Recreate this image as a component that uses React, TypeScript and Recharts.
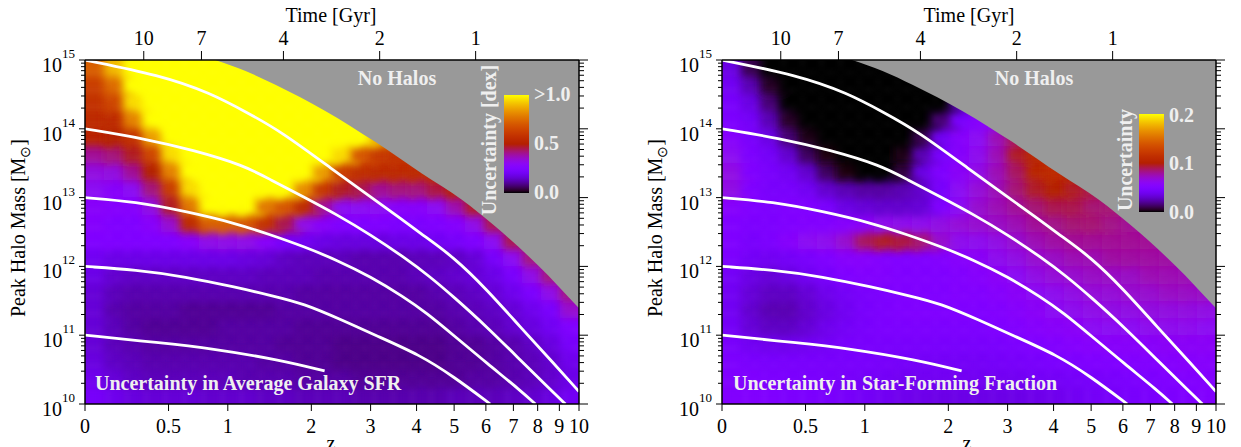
import React from 'react';
import { ComposedChart, XAxis, YAxis, Bar, Line, Area } from 'recharts';

// bottom axis: redshift, top axis: age of the universe
const zTicks = [0, 0.5, 1, 2, 3, 4, 5, 6, 7, 8, 9, 10];
const ageTicks = [10, 7, 4, 2, 1];
const ageTickZ = [0.33, 0.76, 1.62, 3.18, 5.66];
const massDecades = [10, 11, 12, 13, 14, 15];

// median mass accretion histories (z, log10 Mpeak)
const mahZ15 = [0, 0.44, 0.84, 1.19, 1.58, 2.34, 3.0, 3.69, 4.09, 4.98, 6.04, 7.27, 8.73, 10];
const mahM15 = [15, 14.78, 14.52, 14.24, 13.97, 13.4, 13.01, 12.67, 12.48, 12.14, 11.66, 11.12, 10.59, 10.18];
const mahZ14 = [0, 0.33, 0.69, 1.16, 1.46, 1.89, 2.4, 3.0, 3.69, 4.34, 4.98, 6.04, 7.27, 8.73, 9.3];
const mahM14 = [14, 13.86, 13.69, 13.47, 13.26, 13.01, 12.75, 12.46, 12.14, 11.85, 11.56, 11.12, 10.64, 10.16, 10.0];
const mahZ13 = [0, 0.28, 0.63, 1.07, 1.46, 1.89, 2.4, 3.0, 3.69, 4.26, 4.98, 6.04, 7.27, 7.9];
const mahM13 = [13, 12.94, 12.8, 12.63, 12.46, 12.29, 12.09, 11.85, 11.56, 11.32, 11.0, 10.59, 10.2, 10.0];
const mahZ12 = [0, 0.28, 0.63, 1.07, 1.46, 1.89, 2.48, 3.09, 4.09, 4.98, 6.15];
const mahM12 = [12, 11.95, 11.85, 11.7, 11.58, 11.46, 11.22, 11.0, 10.71, 10.4, 10.0];
const mahZ11 = [0, 0.44, 0.84, 1.58, 2.2];
const mahM11 = [11, 10.89, 10.81, 10.64, 10.48];

// upper mass limit of existing halos ("No Halos" above)
const edgeZ = [0.88, 1.18, 1.52, 2.21, 3.09, 4.13, 5.23, 6.33, 8.0, 10];
const edgeM = [15, 14.84, 14.64, 14.26, 13.81, 13.35, 12.97, 12.58, 12.02, 11.39];

// uncertainty grids: 20 rows (log M from 15 down to 10, 0.25 dex each),
// 26 columns evenly spaced in log(1+z) from z=0 to z=10. "-" = no halos
// SFR uncertainty in hundredths of a dex (100 = >1.0)
const sfrRows = [
  '72 90 100 100 100 100 100 100 100 100 - - - - - - - - - - - - - - - -',
  '62 75 100 100 100 100 100 100 100 100 100 - - - - - - - - - - - - - - -',
  '58 65 95 100 100 100 100 100 100 100 100 100 100 - - - - - - - - - - - - -',
  '55 55 80 100 100 100 100 100 100 100 100 100 100 100 100 - - - - - - - - - - -',
  '52 50 58 85 100 100 100 100 100 100 100 100 100 100 100 88 - - - - - - - - - -',
  '40 42 48 65 95 100 100 100 100 100 100 100 100 95 70 60 58 - - - - - - - - -',
  '33 33 40 50 80 100 100 100 100 100 100 100 85 62 56 55 55 55 55 - - - - - - -',
  '30 28 30 42 62 95 100 100 100 100 100 82 60 48 45 40 42 42 46 52 - - - - - -',
  '28 27 27 33 48 78 100 100 100 78 70 55 40 30 30 30 28 28 30 38 48 - - - - -',
  '27 25 25 28 35 55 72 72 70 58 45 32 28 25 25 25 24 24 25 27 32 45 - - - -',
  '25 25 25 25 25 28 32 32 32 28 22 20 18 17 17 17 18 18 20 22 25 30 45 - - -',
  '20 18 18 18 18 18 18 18 17 16 14 13 13 13 12 12 12 13 13 14 16 22 30 42 - -',
  '18 15 14 14 14 14 14 14 14 13 13 13 12 12 12 12 12 13 14 15 16 18 23 32 42 -',
  '16 13 12 12 12 12 12 12 12 12 12 11 11 11 11 11 11 11 12 13 14 16 19 24 32 42',
  '16 12 11 11 11 10 10 10 10 10 11 11 11 11 11 11 11 11 11 12 13 14 16 19 23 35',
  '16 13 11 10 10 10 10 11 11 11 11 10 10 10 10 10 10 10 10 11 12 13 15 17 20 25',
  '16 13 12 11 11 11 11 11 11 11 10 10 10 9 9 9 9 9 9 10 10 11 12 14 17 22',
  '17 14 13 12 12 12 12 12 12 11 11 10 10 9 9 9 9 9 9 10 10 11 12 13 15 19',
  '19 16 14 13 13 13 13 13 12 12 12 11 11 11 10 10 10 10 10 10 11 11 12 13 15 18',
  '22 19 17 16 16 16 15 15 15 14 14 13 13 13 12 12 12 12 12 13 13 13 14 15 17 20',
];
// star-forming fraction uncertainty in thousandths (200 = 0.2)
const sffRows = [
  '35 10 0 0 0 0 0 0 0 0 - - - - - - - - - - - - - - - -',
  '40 25 5 0 0 0 0 0 0 0 0 - - - - - - - - - - - - - - -',
  '45 35 15 0 0 0 0 0 0 0 0 0 25 - - - - - - - - - - - - -',
  '48 42 25 5 0 0 0 0 0 0 0 15 45 55 60 - - - - - - - - - - -',
  '55 45 35 15 3 0 0 0 0 0 10 40 55 60 75 90 - - - - - - - - - -',
  '60 48 42 30 12 2 0 0 0 3 25 45 55 62 75 95 105 - - - - - - - - -',
  '65 50 45 40 30 12 2 0 0 8 35 50 58 65 75 88 105 110 100 - - - - - - -',
  '65 50 45 45 40 30 25 22 22 25 30 45 60 68 75 85 95 100 95 90 - - - - - -',
  '55 50 48 50 50 45 35 32 30 30 32 50 60 70 75 80 85 90 90 85 85 - - - - -',
  '50 48 48 50 52 52 55 58 62 62 62 65 68 70 72 75 80 82 85 85 82 80 - - - -',
  '50 45 48 55 60 62 70 88 95 92 85 70 62 62 65 70 75 78 80 80 80 80 80 - - -',
  '48 42 40 42 45 50 55 55 52 50 50 52 55 58 62 65 70 72 75 75 78 78 78 78 - -',
  '42 35 32 35 40 45 50 52 52 50 50 50 52 55 58 60 65 68 70 72 72 72 75 75 75 -',
  '40 32 28 28 32 38 42 45 48 50 50 50 52 52 55 58 60 62 65 68 68 70 70 72 72 72',
  '40 30 25 25 30 35 40 45 48 50 50 50 50 50 52 55 58 60 62 64 65 65 66 66 66 65',
  '42 32 28 28 32 38 42 45 48 48 48 48 48 48 50 52 55 57 58 60 60 60 62 62 62 60',
  '45 40 38 38 40 42 45 45 45 45 45 45 45 45 46 48 50 52 54 55 56 56 57 58 58 58',
  '48 46 45 45 45 45 45 45 44 43 42 42 42 42 43 44 45 47 48 50 50 52 52 54 55 55',
  '50 50 48 47 46 45 44 43 42 40 40 40 40 40 40 40 42 42 43 44 45 47 48 50 52 52',
  '52 52 50 48 47 46 44 42 40 38 37 36 36 36 36 36 37 38 40 42 44 45 46 48 50 52',
];

const FONT = '"Liberation Serif", "Times New Roman", serif';
const GRAY = '#999999';
const TOP_H = 60;
const PLOT_H = 344;
const BOTTOM_H = 43;
const LEFT_W = 85;
const PLOT_W = 494;
const CHART_H = TOP_H + PLOT_H + BOTTOM_H;
const PAD = 9; // cell overlap, softened by the blur filter

const lx = (z: number) => Math.log10(1 + z);
const LX_MAX = lx(10);
const NROW = 20;
const NCOL = 26;
const ROW_H = 0.25;

const zTickPos = zTicks.map(lx);
const ageTickPos = ageTickZ.map(lx);
const massTickPos: number[] = [];
massDecades.forEach((d) => {
  if (d === 15) { massTickPos.push(d); return; }
  for (let k = 1; k <= 9; k++) massTickPos.push(d + Math.log10(k));
});

const toPoints = (zs: number[], ms: number[]) => zs.map((z, i) => ({ x: lx(z), m: ms[i] }));
const mahCurves = [
  toPoints(mahZ15, mahM15),
  toPoints(mahZ14, mahM14),
  toPoints(mahZ13, mahM13),
  toPoints(mahZ12, mahM12),
  toPoints(mahZ11, mahM11),
];
const edgeData = edgeZ.map((z, i) => ({ x: lx(z), g: [edgeM[i], 15] }));

const parseGrid = (rows: string[]) =>
  rows.map((s) => s.trim().split(/\s+/).map((t) => (t === '-' ? null : Number(t))));
const sfrGrid = parseGrid(sfrRows);
const sffGrid = parseGrid(sffRows);

// one stacked column per grid column; each segment is one 0.25 dex row
const cellTable = Array.from({ length: NCOL }, (_, c) => {
  const o: Record<string, number> = { col: c };
  for (let k = 0; k < NROW; k++) o['r' + k] = ROW_H;
  return o;
});

// gnuplot default palette (rgbformulae 7,5,15)
function gnuplot(t: number) {
  const u = Math.max(0, Math.min(1, t));
  const r = Math.sqrt(u);
  const g = u * u * u;
  const b = Math.max(0, Math.sin(2 * Math.PI * u));
  return `rgb(${Math.round(r * 255)},${Math.round(g * 255)},${Math.round(b * 255)})`;
}

const ZTick = (p: any) => (
  <g>
    <line x1={p.x} x2={p.x} y1={p.y} y2={p.y + 7} stroke="#000" strokeWidth={1} />
    <text x={p.x} y={p.y + 29} textAnchor="middle" fontSize={20} fontFamily={FONT} fill="#000">
      {zTicks[p.index]}
    </text>
  </g>
);

const AgeTick = (p: any) => (
  <g>
    <line x1={p.x} x2={p.x} y1={p.y} y2={p.y - 9} stroke="#000" strokeWidth={1} />
    <text x={p.x} y={p.y - 15} textAnchor="middle" fontSize={20} fontFamily={FONT} fill="#000">
      {ageTicks[p.index]}
    </text>
  </g>
);

const MassTick = (p: any) => {
  const v = p.payload.value;
  const major = Math.abs(v - Math.round(v)) < 1e-6;
  const left = p.side === 'left';
  const len = left ? (major ? 6 : 4) : major ? 9 : 5;
  return (
    <g>
      <line x1={p.x} x2={p.x + (left ? -len : len)} y1={p.y} y2={p.y} stroke="#000" strokeWidth={1} />
      {left && major && (
        <text x={p.x - 10} y={p.y + 12} textAnchor="end" fontSize={20} fontFamily={FONT} fill="#000">
          10
          <tspan dy={-14} fontSize={13}>{Math.round(v)}</tspan>
        </text>
      )}
    </g>
  );
};

const axisLine = { stroke: '#000', strokeWidth: 1.5 };

function cellShape(row: (number | null)[], vmax: number, bottom: boolean) {
  return (p: any) => {
    const c = p.payload.col;
    const v = row[c];
    if (v === null || v === undefined) return <g />;
    const x0 = c === 0 ? p.x - PAD : p.x;
    const x1 = p.x + p.width + PAD;
    const y0 = p.y - PAD;
    const y1 = bottom ? p.y + p.height + PAD : p.y + p.height;
    return (
      <rect
        x={x0}
        y={y0}
        width={x1 - x0}
        height={y1 - y0}
        fill={gnuplot(v / vmax)}
        filter="url(#soft)"
        clipPath="url(#plotClip)"
      />
    );
  };
}

function Panel({ grid, vmax, chartW }: { grid: (number | null)[][]; vmax: number; chartW: number }) {
  const rightW = chartW - LEFT_W - PLOT_W;
  const bars = [];
  for (let k = 0; k < NROW; k++) {
    const row = grid[NROW - 1 - k];
    bars.push(
      <Bar
        key={k}
        dataKey={'r' + k}
        stackId="grid"
        xAxisId="cells"
        yAxisId="cells"
        isAnimationActive={false}
        zIndex={200}
        shape={cellShape(row, vmax, k === 0)}
      />
    );
  }
  return (
    <ComposedChart
      width={chartW}
      height={CHART_H}
      data={cellTable}
      margin={{ top: 0, right: 0, bottom: 0, left: 0 }}
      barCategoryGap={0}
      barGap={0}
    >
      <XAxis xAxisId="cells" dataKey="col" type="category" hide height={0} />
      <YAxis yAxisId="cells" type="number" domain={[0, NROW * ROW_H]} hide width={0} allowDataOverflow />
      <XAxis
        xAxisId="z"
        dataKey="x"
        type="number"
        domain={[0, LX_MAX]}
        allowDataOverflow
        ticks={zTickPos}
        interval={0}
        height={BOTTOM_H}
        tickSize={0}
        tickMargin={0}
        tickLine={false}
        axisLine={axisLine}
        tick={(p: any) => <ZTick {...p} />}
      />
      <XAxis
        xAxisId="age"
        dataKey="x"
        orientation="top"
        type="number"
        domain={[0, LX_MAX]}
        allowDataOverflow
        ticks={ageTickPos}
        interval={0}
        height={TOP_H}
        tickSize={0}
        tickMargin={0}
        tickLine={false}
        axisLine={axisLine}
        tick={(p: any) => <AgeTick {...p} />}
      />
      <YAxis
        yAxisId="m"
        type="number"
        domain={[10, 15]}
        allowDataOverflow
        ticks={massTickPos}
        interval={0}
        width={LEFT_W}
        tickSize={0}
        tickMargin={0}
        tickLine={false}
        axisLine={axisLine}
        tick={(p: any) => <MassTick {...p} side="left" />}
      />
      <YAxis
        yAxisId="mr"
        orientation="right"
        type="number"
        domain={[10, 15]}
        allowDataOverflow
        ticks={massTickPos}
        interval={0}
        width={rightW}
        tickSize={0}
        tickMargin={0}
        tickLine={false}
        axisLine={axisLine}
        tick={(p: any) => <MassTick {...p} side="right" />}
      />
      {bars}
      <Area
        xAxisId="z"
        yAxisId="m"
        data={edgeData}
        dataKey="g"
        type="monotone"
        fill={GRAY}
        fillOpacity={1}
        stroke="none"
        isAnimationActive={false}
        zIndex={350}
      />
      {mahCurves.map((pts, i) => (
        <Line
          key={i}
          xAxisId="z"
          yAxisId="m"
          data={pts}
          dataKey="m"
          type="basis"
          stroke="#ffffff"
          strokeWidth={2.8}
          dot={false}
          activeDot={false}
          isAnimationActive={false}
        />
      ))}
    </ComposedChart>
  );
}

const cbarStops = Array.from({ length: 41 }, (_, i) => i / 40);

function Defs() {
  return (
    <svg width={0} height={0} style={{ position: 'absolute' }}>
      <defs>
        <filter id="soft" x="-80%" y="-80%" width="260%" height="260%">
          <feGaussianBlur stdDeviation={4.5} />
        </filter>
        <clipPath id="plotClip" clipPathUnits="userSpaceOnUse">
          <rect x={LEFT_W} y={TOP_H} width={PLOT_W} height={PLOT_H} />
        </clipPath>
        <linearGradient id="cbar" x1="0" y1="1" x2="0" y2="0">
          {cbarStops.map((t) => (
            <stop key={t} offset={t} stopColor={gnuplot(t)} />
          ))}
        </linearGradient>
      </defs>
    </svg>
  );
}

function Overlay() {
  const txt = { fontFamily: FONT, fill: '#000', fontSize: 20 } as const;
  const light = { fontFamily: FONT, fill: '#efefef', fontSize: 20, fontWeight: 700 } as const;
  return (
    <svg
      width={1241}
      height={447}
      style={{ position: 'absolute', left: 0, top: 0, pointerEvents: 'none' }}
    >
      {/* left panel */}
      <text x={331} y={22} textAnchor="middle" {...txt}>Time [Gyr]</text>
      <text transform="translate(25,228) rotate(-90)" textAnchor="middle" {...txt}>
        Peak Halo Mass [M<tspan dy={5} fontSize={14}>⊙</tspan><tspan dy={-5}>]</tspan>
      </text>
      <text x={331} y={449.5} textAnchor="middle" {...txt}>z</text>
      <text x={397} y={85} textAnchor="middle" {...light}>No Halos</text>
      <text x={95} y={390} {...light}>Uncertainty in Average Galaxy SFR</text>
      <rect x={504} y={95} width={25} height={98} fill="url(#cbar)" />
      <text x={534} y={101} {...light}>&gt;1.0</text>
      <text x={534} y={150} {...light}>0.5</text>
      <text x={534} y={199} {...light}>0.0</text>
      <text transform="translate(496,140) rotate(-90)" textAnchor="middle" {...light}>Uncertainty [dex]</text>
      {/* right panel */}
      <text x={969} y={22} textAnchor="middle" {...txt}>Time [Gyr]</text>
      <text transform="translate(662,228) rotate(-90)" textAnchor="middle" {...txt}>
        Peak Halo Mass [M<tspan dy={5} fontSize={14}>⊙</tspan><tspan dy={-5}>]</tspan>
      </text>
      <text x={967} y={449.5} textAnchor="middle" {...txt}>z</text>
      <text x={1034} y={85} textAnchor="middle" {...light}>No Halos</text>
      <text x={733} y={390} {...light}>Uncertainty in Star-Forming Fraction</text>
      <rect x={1139} y={114} width={25} height={98} fill="url(#cbar)" />
      <text x={1169} y={122} {...light}>0.2</text>
      <text x={1169} y={170} {...light}>0.1</text>
      <text x={1169} y={219} {...light}>0.0</text>
      <text transform="translate(1132,160) rotate(-90)" textAnchor="middle" {...light}>Uncertainty</text>
    </svg>
  );
}

export default function App() {
  return (
    <div
      style={{
        position: 'absolute',
        left: 0,
        top: 0,
        width: 1241,
        height: 447,
        overflow: 'hidden',
        background: '#fff',
      }}
    >
      <Defs />
      <div style={{ position: 'absolute', left: 0, top: 0 }}>
        <Panel grid={sfrGrid} vmax={100} chartW={620} />
      </div>
      <div style={{ position: 'absolute', left: 637, top: 0 }}>
        <Panel grid={sffGrid} vmax={200} chartW={604} />
      </div>
      <Overlay />
    </div>
  );
}
